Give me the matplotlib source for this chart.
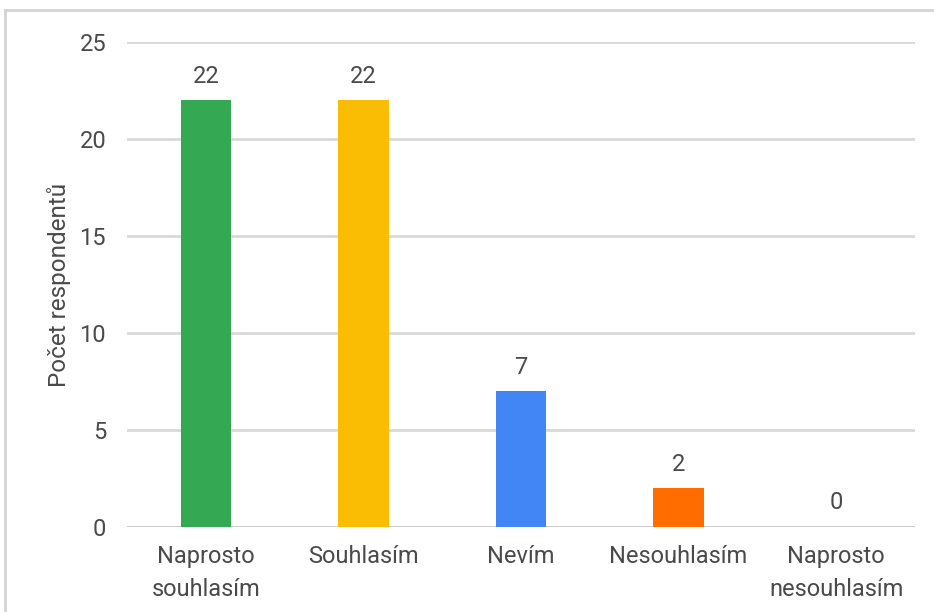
import matplotlib
matplotlib.use("Agg")
import matplotlib.pyplot as plt
from matplotlib.lines import Line2D

# Data
categories = ["Naprosto\nsouhlasím", "Souhlasím", "Nevím", "Nesouhlasím", "Naprosto\nnesouhlasím"]
counts = [22, 22, 7, 2, 0]
colors = ["#34A853", "#FBBC04", "#4285F4", "#FF6D01", "#AB30C4"]
yticks = [0, 5, 10, 15, 20, 25]

plt.rcParams["font.family"] = ["Roboto", "DejaVu Sans"]
text_color = "#4a4a4a"

fig = plt.figure(figsize=(9.34, 6.12), dpi=100)
ax = fig.add_axes([127 / 934, 1 - 527 / 612, 788 / 934, 485 / 612])

x = range(len(categories))
bars = ax.bar(x, counts, width=0.32, color=colors, zorder=3)

# value labels above bars
for xi, v in zip(x, counts):
    ax.text(xi, v + 0.65, str(v), ha="center", va="bottom",
            fontsize=17, color=text_color, zorder=4)

ax.set_xlim(-0.5, len(categories) - 0.5)
ax.set_ylim(0, 25)
ax.set_yticks(yticks)
ax.set_xticks(list(x))
ax.set_xticklabels(categories, linespacing=1.55)
ax.tick_params(axis="both", length=0, labelsize=17, colors=text_color)
ax.tick_params(axis="x", pad=13)
ax.tick_params(axis="y", pad=15)

ax.grid(axis="y", color="#d9d9d9", linewidth=2, zorder=0)
for s in ax.spines.values():
    s.set_visible(False)
ax.axhline(0, color="#cccccc", linewidth=2.2, zorder=2)

ax.set_ylabel("Počet respondentů", fontsize=17.5, color=text_color, labelpad=6)

# screenshot frame
fig.add_artist(Line2D([5 / 934, 1], [1 - 10 / 612, 1 - 10 / 612],
                      transform=fig.transFigure, color="#d4d4d4", linewidth=2))
fig.add_artist(Line2D([5 / 934, 5 / 934], [0, 1 - 10 / 612],
                      transform=fig.transFigure, color="#d4d4d4", linewidth=2))

fig.savefig("out.png", dpi=100)
